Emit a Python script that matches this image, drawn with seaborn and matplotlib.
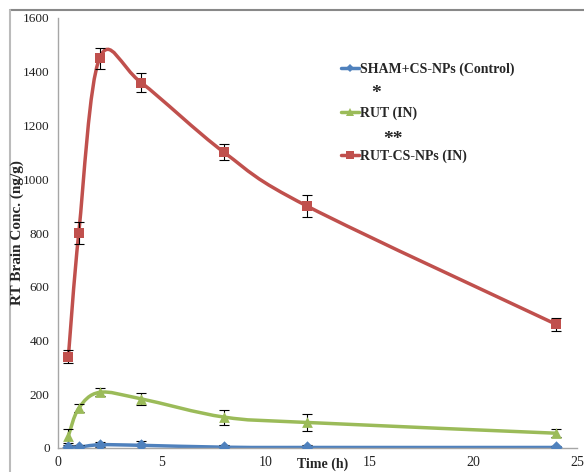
import seaborn as sns
import matplotlib.pyplot as plt
import pandas as pd
from matplotlib.path import Path
from matplotlib.patches import PathPatch
from matplotlib.lines import Line2D

sns.set_style("white")
plt.rcParams['font.family'] = ['Liberation Serif', 'DejaVu Serif']

time = [0.5, 1, 2, 4, 8, 12, 24]
sham = [3, 3, 12, 10, 3, 2, 2]
sham_err = [8, 10, 10, 15, 10, 8, 4]
rut = [45, 148, 207, 183, 115, 95, 55]
rut_err = [25, 15, 15, 22, 28, 30, 15]
rut_np = [340, 800, 1450, 1360, 1100, 900, 460]
rut_np_err = [25, 40, 40, 35, 30, 40, 25]

labels = ["SHAM+CS-NPs (Control)", "RUT (IN)", "RUT-CS-NPs (IN)"]
colors = ["#4F81BD", "#9BBB59", "#C0504D"]
markers = ["D", "^", "s"]
sizes = [40, 60, 55]


def smooth_path(xs, ys):
    # excel-like smoothed line: cubic bezier with catmull-rom control points
    pts = list(zip(xs, ys))
    verts = [pts[0]]
    codes = [Path.MOVETO]
    n = len(pts)
    for i in range(n - 1):
        p0 = pts[i - 1] if i > 0 else pts[i]
        p1 = pts[i]
        p2 = pts[i + 1]
        p3 = pts[i + 2] if i + 2 < n else pts[i + 1]
        c1 = (p1[0] + (p2[0] - p0[0]) / 6, p1[1] + (p2[1] - p0[1]) / 6)
        c2 = (p2[0] - (p3[0] - p1[0]) / 6, p2[1] - (p3[1] - p1[1]) / 6)
        verts += [c1, c2, p2]
        codes += [Path.CURVE4] * 3
    return Path(verts, codes)


fig = plt.figure(figsize=(5.84, 4.72), dpi=100)
ax = fig.add_axes([58 / 584, 24 / 472, 519 / 584, 430 / 472])

series = [(sham, sham_err), (rut, rut_err), (rut_np, rut_np_err)]
handles = []
for (vals, errs), lab, col, mk, sz in zip(series, labels, colors, markers, sizes):
    ax.add_patch(PathPatch(smooth_path(time, vals), fill=False, edgecolor=col,
                           lw=2.5, zorder=2))
    ax.errorbar(time, vals, yerr=errs, fmt='none', ecolor='black', elinewidth=0.8,
                capsize=3.5, capthick=0.8, zorder=3)
    df = pd.DataFrame({'t': time, 'v': vals})
    sns.scatterplot(data=df, x='t', y='v', marker=mk, s=sz, color=col,
                    edgecolor=col, linewidth=0, ax=ax, zorder=4)
    handles.append(Line2D([], [], color=col, lw=2.5, marker=mk,
                          markersize=6 if mk != 'D' else 4.5, markeredgewidth=0))

ax.set_xlim(0, 25)
ax.set_ylim(0, 1600)
ax.set_xticks(range(0, 26, 5))
ax.set_yticks(range(0, 1601, 200))
for s in ['top', 'right']:
    ax.spines[s].set_visible(False)
for s in ['left', 'bottom']:
    ax.spines[s].set_color('#A6A6A6')
    ax.spines[s].set_linewidth(1)
ax.tick_params(direction='out', length=4, width=1, color='#A6A6A6',
               labelsize=10, labelcolor='#222222', pad=2)
ax.tick_params(axis='y', labelsize=9.5)

ax.set_ylabel("RT Brain Conc. (ng/g)", fontsize=11, fontweight='bold')
ax.yaxis.set_label_coords(-0.066, 0.5)
ax.set_xlabel("Time (h)", fontsize=10, fontweight='bold')
ax.xaxis.set_label_coords(0.51, -0.022)

leg = ax.legend(handles, labels, loc='upper left', bbox_to_anchor=(334 / 584, 1 - 56 / 472),
                bbox_transform=fig.transFigure, frameon=False, prop={'weight': 'bold', 'size': 10},
                handlelength=1.3, handletextpad=0.05, labelspacing=2.15, borderpad=0)

fig.text(376 / 584, 1 - 93 / 472, "*", fontsize=14, fontweight='bold', ha='center', va='center')
fig.text(393 / 584, 1 - 140 / 472, "**", fontsize=14, fontweight='bold', ha='center', va='center')

# outer chart border
fig.add_artist(Line2D([10 / 584, 1], [1 - 10 / 472] * 2, transform=fig.transFigure,
                      color='#888888', lw=1.5, zorder=-1))
fig.add_artist(Line2D([10 / 584] * 2, [0, 1 - 10 / 472], transform=fig.transFigure,
                      color='#BBBBBB', lw=1.5, zorder=-1))

fig.savefig("out.png", dpi=100)
